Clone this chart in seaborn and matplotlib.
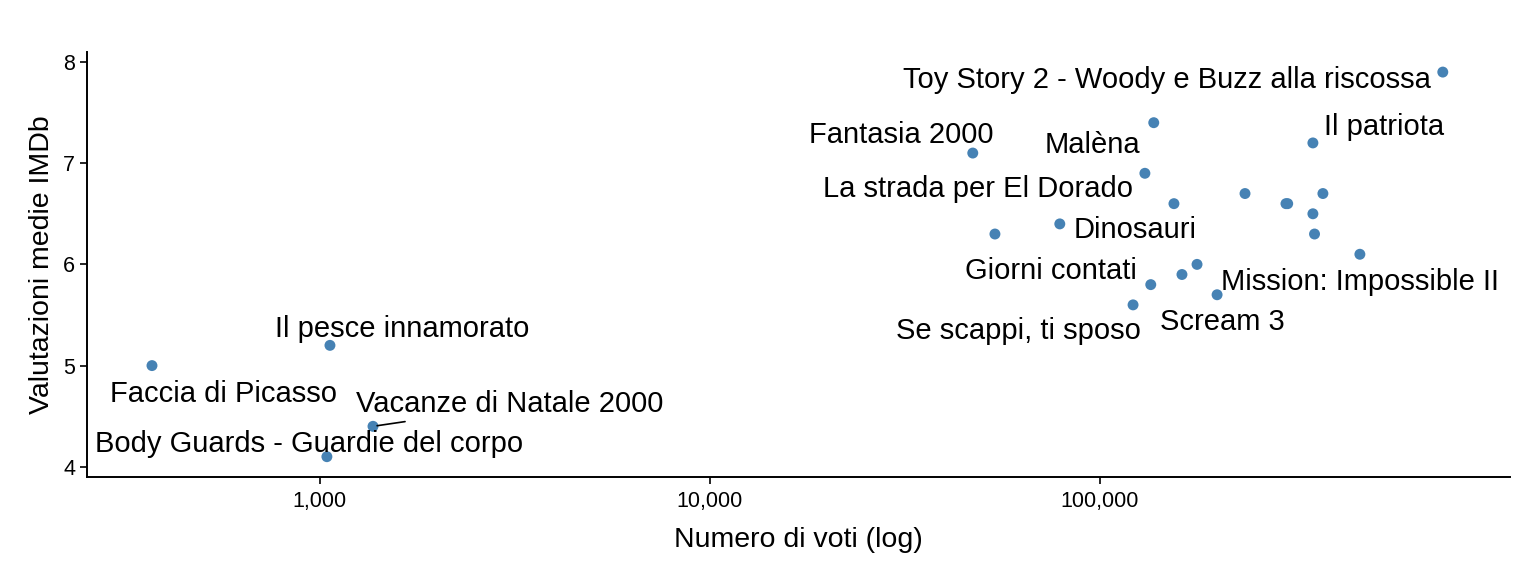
import numpy
import pandas
import seaborn
import matplotlib
from matplotlib import pyplot as plt
from matplotlib.ticker import FixedLocator, NullLocator

# film, numero di voti, valutazione media
films = [
    "Faccia di Picasso", "Il pesce innamorato", "Vacanze di Natale 2000",
    "Body Guards - Guardie del corpo", "Fantasia 2000", "", "Dinosauri",
    "Se scappi, ti sposo", "Giorni contati", "La strada per El Dorado", "Malèna",
    "", "", "", "Scream 3", "", "", "", "Il patriota", "", "", "",
    "Mission: Impossible II", "Toy Story 2 - Woody e Buzz alla riscossa",
]
votes = [
    371, 1061, 1368, 1042, 47200, 53800, 78900,
    121600, 135000, 130400, 137400,
    154800, 162300, 177400, 199700, 235500, 299900, 303000, 351600, 351600, 355000, 373000,
    464000, 757000,
]
ratings = [
    5.0, 5.2, 4.4, 4.1, 7.1, 6.3, 6.4,
    5.6, 5.8, 6.9, 7.4,
    6.6, 5.9, 6.0, 5.7, 6.7, 6.6, 6.6, 7.2, 6.5, 6.3, 6.7,
    6.1, 7.9,
]

# spostamento delle etichette in pixel (dx, dy) rispetto al punto
label_offsets = {
    "Toy Story 2 - Woody e Buzz alla riscossa": (-276, -8),
    "Fantasia 2000": (-72, 18),
    "Malèna": (-61, -22),
    "Il patriota": (71, 16),
    "La strada per El Dorado": (-167, -16),
    "Dinosauri": (75, -6),
    "Giorni contati": (-100, 14),
    "Mission: Impossible II": (0, -28),
    "Scream 3": (5, -27),
    "Se scappi, ti sposo": (-115, -26),
    "Il pesce innamorato": (72, 16),
    "Faccia di Picasso": (72, -28),
    "Vacanze di Natale 2000": (137, 22),
    "Body Guards - Guardie del corpo": (-18, 13),
}

df = pandas.DataFrame({"film": films, "voti": votes, "rating": ratings})

seaborn.set_theme(style="ticks")
plt.rcParams["font.family"] = ["Liberation Sans", "DejaVu Sans"]

fig = plt.figure(figsize=(15.36, 5.76), dpi=100)
ax = fig.add_axes([0.0566, 0.172, 0.9264, 0.738])

seaborn.scatterplot(
    data=df, x="voti", y="rating", ax=ax,
    color="#4682B4", s=62, edgecolor="none", zorder=3,
)

ax.set_xscale("log")
ax.set_xlim(252.7, 1125000)
ax.set_ylim(3.9, 8.1)
ax.xaxis.set_major_locator(FixedLocator([1000, 10000, 100000]))
ax.xaxis.set_minor_locator(NullLocator())
ax.set_xticklabels(["1,000", "10,000", "100,000"])
ax.set_yticks([4, 5, 6, 7, 8])

for name, x, y in zip(films, votes, ratings):
    if name not in label_offsets:
        continue
    dx, dy = label_offsets[name]
    kw = {}
    if name == "Vacanze di Natale 2000":
        # segmento come in ggrepel
        kw["arrowprops"] = dict(
            arrowstyle="-", color="black", lw=1.2,
            relpos=(0.2, -0.05), shrinkA=0, shrinkB=3,
        )
    ax.annotate(
        name, (x, y), xytext=(dx, dy), textcoords="offset pixels",
        ha="center", va="center", fontsize=21, color="black", **kw,
    )

ax.spines[["right", "top"]].set_visible(False)
for side in ["left", "bottom"]:
    ax.spines[side].set_color("black")
    ax.spines[side].set_linewidth(1.4)
ax.tick_params(axis="both", colors="black", labelsize=15.5, length=5, width=1.2)
ax.tick_params(axis="x", pad=5)

ax.set_xlabel("Numero di voti (log)", fontsize=20.5, color="black", labelpad=11)
ax.set_ylabel("Valutazioni medie IMDb", fontsize=20.5, color="black", labelpad=6)

fig.savefig("out.png", dpi=100)
